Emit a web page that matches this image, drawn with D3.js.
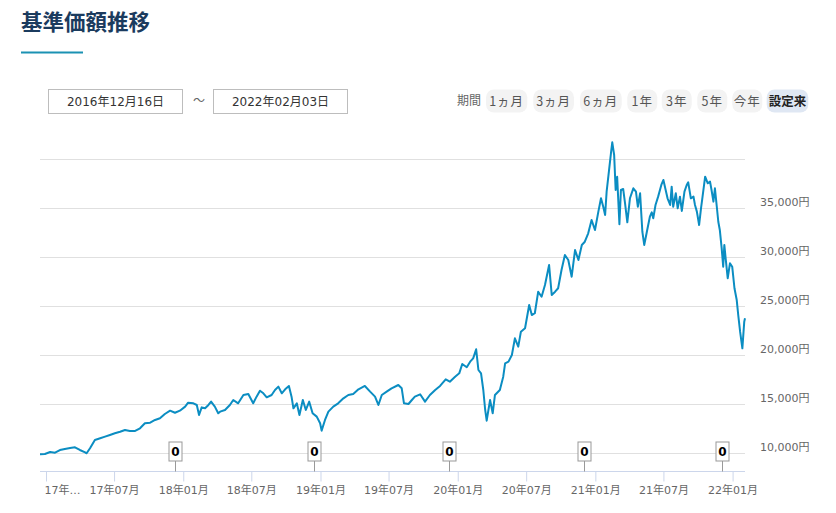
<!DOCTYPE html>
<html><head><meta charset="utf-8">
<script src="https://cdn.jsdelivr.net/npm/d3@7"></script>
<style>
body{margin:0;background:#fff;}
svg{display:block;}
</style></head>
<body>
<svg id="c" width="836" height="513"></svg>
<script>
const titleText = "基準価額推移";
const startDateLabel = "2016年12月16日";
const endDateLabel = "2022年02月03日";
const periodLabel = "期間";
const periodButtons = ["1ヵ月","3ヵ月","6ヵ月","1年","3年","5年","今年","設定来"];

const navDates = ["2016-12-16","2016-12-29","2017-01-12","2017-01-25","2017-02-07","2017-02-20","2017-03-06","2017-03-19","2017-04-01","2017-04-15","2017-04-19","2017-04-28","2017-05-11","2017-05-25","2017-06-07","2017-06-20","2017-07-03","2017-07-17","2017-07-30","2017-08-12","2017-08-26","2017-09-08","2017-09-21","2017-10-05","2017-10-18","2017-10-31","2017-11-13","2017-11-27","2017-12-10","2017-12-23","2018-01-06","2018-01-14","2018-01-28","2018-02-06","2018-02-12","2018-02-19","2018-02-28","2018-03-09","2018-03-16","2018-03-26","2018-04-04","2018-04-09","2018-04-22","2018-05-05","2018-05-14","2018-05-27","2018-06-10","2018-06-23","2018-07-06","2018-07-15","2018-07-24","2018-08-02","2018-08-11","2018-08-24","2018-09-02","2018-09-11","2018-09-20","2018-09-29","2018-10-09","2018-10-16","2018-10-21","2018-10-30","2018-11-06","2018-11-15","2018-11-23","2018-12-02","2018-12-11","2018-12-22","2018-12-31","2019-01-04","2019-01-13","2019-01-22","2019-02-04","2019-02-17","2019-03-03","2019-03-16","2019-03-29","2019-04-12","2019-04-29","2019-05-13","2019-05-26","2019-06-04","2019-06-13","2019-06-26","2019-07-09","2019-07-27","2019-08-05","2019-08-11","2019-08-23","2019-09-01","2019-09-09","2019-09-23","2019-10-06","2019-10-19","2019-11-02","2019-11-15","2019-11-30","2019-12-11","2019-12-25","2020-01-05","2020-01-13","2020-01-25","2020-02-03","2020-02-11","2020-02-19","2020-02-25","2020-03-03","2020-03-09","2020-03-14","2020-03-18","2020-03-27","2020-04-03","2020-04-09","2020-04-22","2020-05-01","2020-05-06","2020-05-15","2020-05-24","2020-06-01","2020-06-10","2020-06-17","2020-06-28","2020-07-09","2020-07-16","2020-07-24","2020-08-02","2020-08-11","2020-08-20","2020-08-31","2020-09-07","2020-09-16","2020-09-24","2020-10-03","2020-10-12","2020-10-21","2020-10-30","2020-11-08","2020-11-17","2020-11-26","2020-12-04","2020-12-13","2020-12-22","2020-12-31","2021-01-09","2021-01-16","2021-01-22","2021-01-27","2021-01-31","2021-02-06","2021-02-12","2021-02-15","2021-02-20","2021-02-24","2021-02-28","2021-03-06","2021-03-10","2021-03-16","2021-03-21","2021-03-27","2021-04-03","2021-04-12","2021-04-19","2021-04-24","2021-04-30","2021-05-06","2021-05-11","2021-05-18","2021-05-26","2021-05-31","2021-06-04","2021-06-10","2021-06-17","2021-06-26","2021-07-01","2021-07-07","2021-07-12","2021-07-19","2021-07-23","2021-07-27","2021-08-03","2021-08-08","2021-08-14","2021-08-19","2021-08-26","2021-09-01","2021-09-05","2021-09-12","2021-09-19","2021-09-23","2021-09-28","2021-10-04","2021-10-09","2021-10-12","2021-10-20","2021-10-27","2021-11-02","2021-11-06","2021-11-11","2021-11-15","2021-11-20","2021-11-24","2021-11-28","2021-12-03","2021-12-07","2021-12-10","2021-12-14","2021-12-19","2021-12-25","2021-12-31","2022-01-06","2022-01-12","2022-01-16","2022-01-21","2022-01-27","2022-02-01","2022-02-03"];
const navValues = [9900,9930,10130,10060,10330,10440,10540,10610,10340,10100,10000,10510,11360,11530,11700,11870,12040,12200,12380,12280,12280,12550,13060,13120,13400,13570,14010,14350,14140,14350,14760,15160,15100,14930,13910,14690,14590,14930,15270,14760,14080,14250,14420,14930,15440,15100,15950,16050,15100,15780,16390,16120,15710,15950,16460,16800,16120,16530,16870,15780,14590,15100,13910,15440,14420,15270,14080,13740,13060,12310,13400,14250,14760,15100,15610,15950,16050,16530,16870,16290,15780,14930,15950,16290,16630,16970,16630,15100,15030,15440,15780,16020,15270,15950,16460,16870,17550,17310,17820,18160,19110,18780,19350,19690,20610,18500,18160,16460,14420,13330,15440,14080,15950,16460,17820,19180,19350,20030,21730,20880,22410,22760,25130,24110,24290,26490,25980,27170,29210,26150,26490,26840,28700,30230,29720,28020,30740,29720,31260,31590,32450,33810,32790,34660,36020,35160,34320,36700,38740,40780,41730,40440,36870,38220,33370,36870,36970,35510,33570,36020,37040,36700,35160,36530,32610,31260,32610,34140,34590,33980,35340,36190,37450,37890,36870,36020,35340,37210,35160,36530,35000,36190,34730,36700,37380,37650,36020,36190,35340,34660,33300,35000,35850,38220,37550,37720,36870,35680,37040,35160,33630,32790,30920,29040,31260,29720,27860,29390,29040,26840,25640,24110,22410,20710,23430,23780];

const flagDates = ["2017-12-10","2018-12-15","2019-12-10","2020-12-03","2021-12-05"];
const flagLabels = ["0","0","0","0","0"];

const yTickValues = [10000,15000,20000,25000,30000,35000];
const yGridValues = [10000,15000,20000,25000,30000,35000,40000];
const xTickDates = ["2017-01-01","2017-07-01","2018-01-01","2018-07-01","2019-01-01","2019-07-01","2020-01-01","2020-07-01","2021-01-01","2021-07-01","2022-01-01"];

const parse = d3.timeParse("%Y-%m-%d");
const svg = d3.select("#c");
const jp = "'Noto Sans CJK JP','Noto Sans',sans-serif";
const dv = "'DejaVu Sans','Noto Sans CJK JP',sans-serif";

// Title
svg.append("text").attr("x",21).attr("y",30).text(titleText)
  .attr("font-family",jp).attr("font-weight","bold").attr("font-size",21.5).attr("fill","#1b3b5e");
svg.append("rect").attr("x",21).attr("y",51.5).attr("width",62).attr("height",2).attr("fill","#1b92b3");

// Date boxes
[[48.5,startDateLabel],[213.5,endDateLabel]].forEach(([x,t])=>{
  svg.append("rect").attr("x",x).attr("y",89.5).attr("width",134).attr("height",24)
    .attr("fill","#fff").attr("stroke","#bdbdbd").attr("stroke-width",1);
  svg.append("text").attr("x",x+67).attr("y",105.5).attr("text-anchor","middle").text(t)
    .attr("font-family",dv).attr("font-size",12).attr("fill","#333");
});
svg.append("text").attr("x",199).attr("y",105).attr("text-anchor","middle").text("〜")
  .attr("font-family",jp).attr("font-size",12).attr("fill","#666");

// Period buttons
svg.append("text").attr("x",457).attr("y",105).text(periodLabel)
  .attr("font-family",jp).attr("font-size",12).attr("fill","#666");
const btnX = [486,533.3,580,627.3,661.7,697.3,732.3,766.7];
const btnW = [41.3,40.7,41.7,30,30,30,30,41.6];
periodButtons.forEach((t,i)=>{
  const last = i===periodButtons.length-1;
  svg.append("rect").attr("x",btnX[i]).attr("y",89.5).attr("width",btnW[i]).attr("height",23).attr("rx",8)
    .attr("fill",last?"#dfe7f3":"#f3f3f3");
  svg.append("text").attr("x",btnX[i]+btnW[i]/2).attr("y",105.5).attr("text-anchor","middle").text(t)
    .attr("font-family",jp).attr("font-size",12.5).attr("font-weight",last?"bold":"normal")
    .attr("fill",last?"#222":"#555").attr("letter-spacing",last?0:1);
});

// Scales
const x = d3.scaleTime().domain([parse("2016-12-16"),parse("2022-02-03")]).range([40,745]);
const y = d3.scaleLinear().domain([10000,40000]).range([453.3,159.3]);
const axisY = 471.5;

// Grid
svg.append("g").selectAll("line").data(yGridValues).join("line")
  .attr("x1",40).attr("x2",745).attr("y1",d=>Math.round(y(d))+0.5).attr("y2",d=>Math.round(y(d))+0.5)
  .attr("stroke","#e0e0e0").attr("stroke-width",1);

// Y axis labels
const yAxis = d3.axisRight(y).tickValues(yTickValues).tickSize(0).tickPadding(0)
  .tickFormat(d=>d3.format(",")(d)+"円");
const gy = svg.append("g").attr("transform","translate(760,0)").call(yAxis);
gy.select(".domain").remove();
gy.selectAll("text").attr("font-family",dv).attr("font-size",11).attr("fill","#666")
  .attr("dy","-0.25em").attr("x",0);

// X axis
const xt = xTickDates.map(parse);
const xAxis = d3.axisBottom(x).tickValues(xt).tickSize(10).tickPadding(5)
  .tickFormat((d,i)=> i===0 ? "17年…" : d3.timeFormat("%y年%m月")(d));
const gx = svg.append("g").attr("transform",`translate(0,${axisY})`).call(xAxis);
gx.select(".domain").attr("d","M40,0H745").attr("stroke","#ccd6eb");
gx.selectAll(".tick line").attr("stroke","#ccd6eb");
gx.selectAll("text").attr("font-family",dv).attr("font-size",11).attr("fill","#666");
gx.selectAll(".tick").filter((d,i)=>i===0).select("text").attr("text-anchor","start").attr("x",-2);

// Line
const data = navDates.map((d,i)=>({date:parse(d),value:navValues[i]}));
svg.append("path").datum(data)
  .attr("d",d3.line().x(d=>x(d.date)).y(d=>y(d.value)))
  .attr("fill","none").attr("stroke","#0b8dc2").attr("stroke-width",2).attr("stroke-linejoin","round");

// Flags
const flags = flagDates.map((d,i)=>({date:parse(d),label:flagLabels[i]}));
const fg = svg.append("g").selectAll("g").data(flags).join("g")
  .attr("transform",d=>`translate(${Math.round(x(d.date))+0.5},0)`);
fg.append("line").attr("x1",0).attr("x2",0).attr("y1",461).attr("y2",axisY).attr("stroke","#999");
fg.append("rect").attr("x",-6.5).attr("y",442).attr("width",13).attr("height",19)
  .attr("fill","#fff").attr("stroke","#999");
fg.append("text").attr("x",0).attr("y",456).attr("text-anchor","middle").text(d=>d.label)
  .attr("font-family",dv).attr("font-weight","bold").attr("font-size",12).attr("fill","#000");
</script>
</body></html>
